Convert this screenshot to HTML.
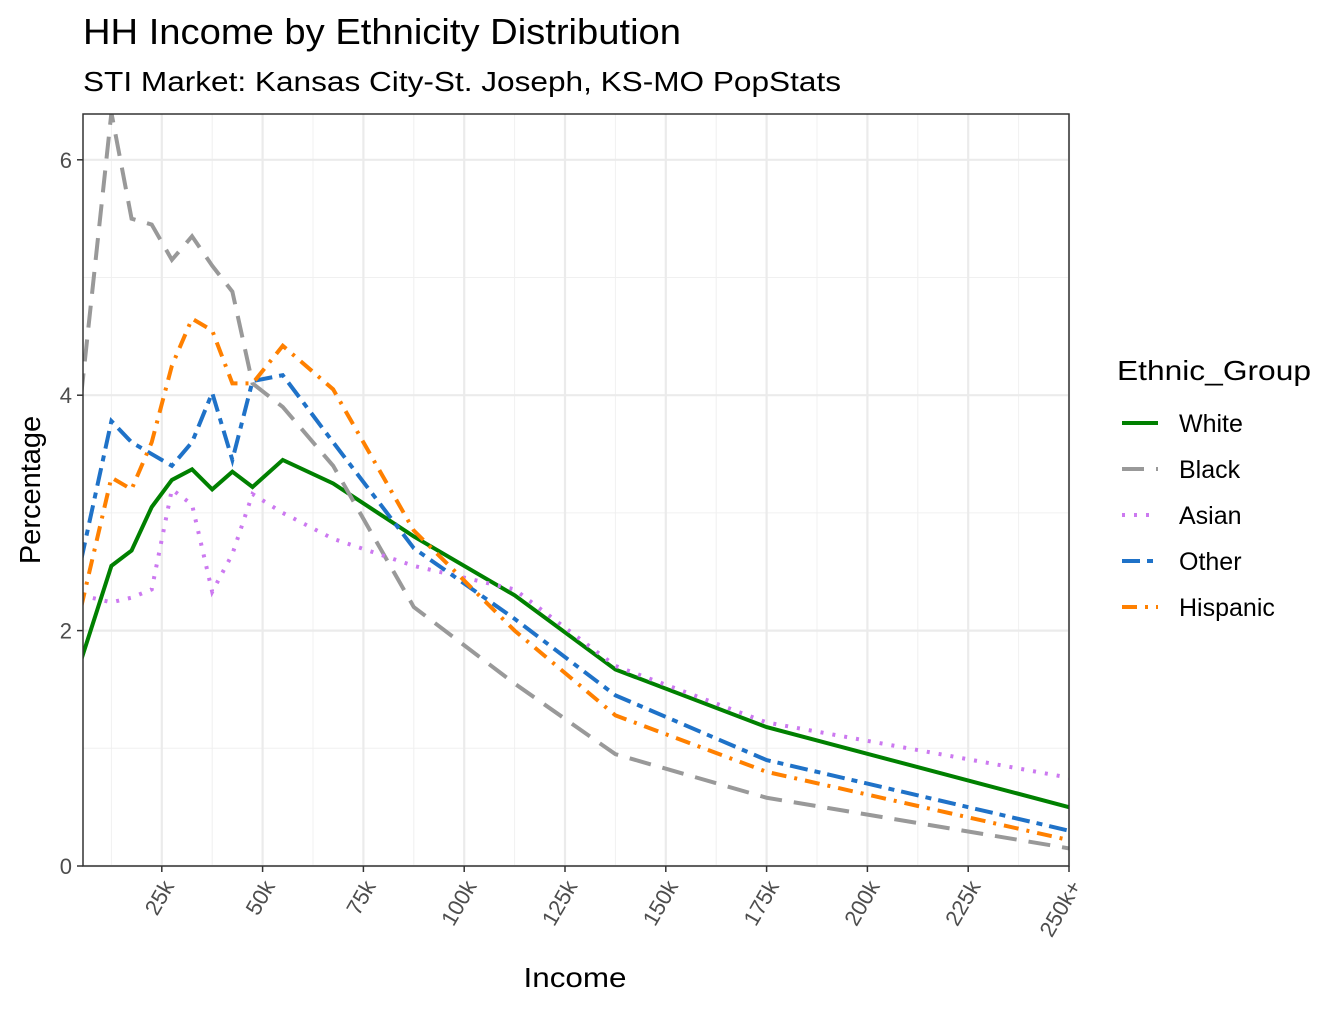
<!DOCTYPE html>
<html><head><meta charset="utf-8"><style>
body{margin:0;background:#fff;font-family:"Liberation Sans",Arial,sans-serif}
</style></head><body>
<svg width="1344" height="1008" xmlns="http://www.w3.org/2000/svg" font-family="Liberation Sans, Arial, sans-serif">
<text x="83" y="44" font-size="36" textLength="598" lengthAdjust="spacingAndGlyphs" fill="#000">HH Income by Ethnicity Distribution</text>
<text x="83" y="91" font-size="28" textLength="758" lengthAdjust="spacingAndGlyphs" fill="#000">STI Market: Kansas City-St. Joseph, KS-MO PopStats</text>
<g id="plot"></g>
<text x="575" y="987" font-size="28" text-anchor="middle" textLength="103" lengthAdjust="spacingAndGlyphs">Income</text>
<text transform="translate(40,490) rotate(-90)" font-size="29" text-anchor="middle">Percentage</text>
<g id="legend">
<text x="1117" y="380" font-size="28" textLength="194" lengthAdjust="spacingAndGlyphs">Ethnic_Group</text>
</g>
</svg>
<script>
const xs=[5,12.5,17.5,22.5,27.5,32.5,37.5,42.5,47.5,55,67.5,87.5,112.5,137.5,175,250];
const white=[1.75,2.55,2.68,3.05,3.28,3.37,3.2,3.35,3.22,3.45,3.25,2.8,2.3,1.67,1.18,0.5];
const black=[4.0,6.4,5.5,5.45,5.15,5.35,5.1,4.88,4.1,3.9,3.4,2.2,1.55,0.95,0.58,0.15];
const asian=[2.3,2.24,2.28,2.35,3.2,3.07,2.33,2.65,3.16,3.0,2.78,2.55,2.35,1.7,1.22,0.75];
const other=[2.6,3.78,3.6,3.5,3.4,3.6,4.02,3.45,4.12,4.17,3.6,2.7,2.1,1.45,0.9,0.3];
const hispanic=[2.2,3.3,3.2,3.6,4.25,4.65,4.55,4.1,4.1,4.42,4.05,2.85,2.0,1.28,0.8,0.22];
const xTicks=[25,50,75,100,125,150,175,200,225,250];
const xTickLabels=["25k","50k","75k","100k","125k","150k","175k","200k","225k","250k+"];
const yTicks=[0,2,4,6];
const series=[
 {name:"White",v:white,c:"#008000",d:""},
 {name:"Black",v:black,c:"#999999",d:"22,12"},
 {name:"Asian",v:asian,c:"#CC79F0",d:"3,9"},
 {name:"Other",v:other,c:"#1F72C8",d:"18,7,6,7"},
 {name:"Hispanic",v:hispanic,c:"#FF8000",d:"15,8,3,8"}];
const L=83,R=1069,T=114,B=866;
const X=k=>61+k*4.032, Y=v=>866-v*117.7;
const NS="http://www.w3.org/2000/svg";
const plot=document.getElementById('plot');
function mk(t,a,p){const e=document.createElementNS(NS,t);for(const k in a)e.setAttribute(k,a[k]);(p||plot).appendChild(e);return e;}
const defs=mk('defs',{});const cp=mk('clipPath',{id:'cp'},defs);mk('rect',{x:L,y:T,width:R-L,height:B-T},cp);
for(let v=1;v<=5;v+=2){const g=mk('line',{x1:L,x2:R,y1:Y(v),y2:Y(v),stroke:'#f0f0f0','stroke-width':1});

}
for(let k=12.5;k<250;k+=25){const g=mk('line',{x1:X(k),x2:X(k),y1:T,y2:B,stroke:'#f0f0f0','stroke-width':1});

}
yTicks.forEach(v=>{const g=mk('line',{x1:L,x2:R,y1:Y(v),y2:Y(v),stroke:'#ebebeb','stroke-width':2.2});


const t=mk('line',{x1:L-6,x2:L,y1:Y(v),y2:Y(v),stroke:'#333','stroke-width':1.5});


const lb=mk('text',{x:L-11,y:Y(v)+8,'font-size':22,fill:'#4d4d4d','text-anchor':'end'});lb.textContent=v;

});
xTicks.forEach((k,i)=>{const g=mk('line',{x1:X(k),x2:X(k),y1:T,y2:B,stroke:'#ebebeb','stroke-width':2.2});


const t=mk('line',{x1:X(k),x2:X(k),y1:B,y2:B+6,stroke:'#333','stroke-width':1.5});


const lb=mk('text',{transform:`translate(${X(k)+13},${B+20}) rotate(-60)`,'font-size':22,fill:'#4d4d4d','text-anchor':'end'});lb.textContent=xTickLabels[i];

});
series.forEach(s=>{const p=mk('polyline',{points:xs.map((k,i)=>X(k)+','+Y(s.v[i])).join(' '),fill:'none',stroke:s.c,'stroke-width':4,'stroke-dasharray':s.d,'clip-path':'url(#cp)'});

});
const fr=mk('rect',{x:L,y:T,width:R-L,height:B-T,fill:'none',stroke:'#333','stroke-width':1.5});


const lg=document.getElementById('legend');
series.forEach((s,i)=>{const y=423+i*46;
const l=mk('line',{x1:1122,x2:1158,y1:y,y2:y,stroke:s.c,'stroke-width':4,'stroke-dasharray':s.d},lg);


const t=mk('text',{x:1179,y:y+9,'font-size':25},lg);t.textContent=s.name;

});
</script>
</body></html>
